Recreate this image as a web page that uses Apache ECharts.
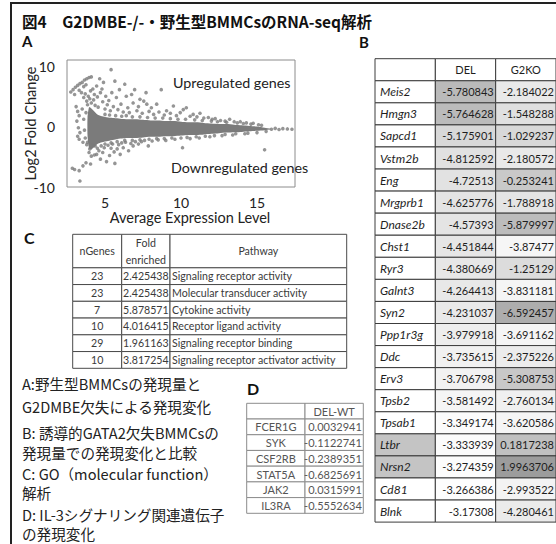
<!DOCTYPE html>
<html>
<head>
<meta charset="utf-8">
<script src="https://cdn.jsdelivr.net/npm/echarts@6.0.0/dist/echarts.min.js"></script>
<style>
  html, body { margin: 0; padding: 0; background: #ffffff; }
  #fig { width: 556px; height: 544px; }
</style>
</head>
<body>
<div id="fig"></div>
<script>
// ---------- Panel A: MA plot ----------
// dense core of the cloud: upper / lower envelope along the expression axis
const bandX     = [3.85, 3.95, 4.1, 4.3, 4.5, 4.8, 5.2, 5.6, 6.0, 6.5, 7.0, 7.5, 8.0, 8.5, 9.0, 9.5, 10.0, 10.5, 11.0, 11.5, 12.0, 12.5, 13.0, 13.5, 14.0, 14.5, 15.0, 15.5, 15.9];
const bandUpper = [1.5, 3.2, 3.0, 2.5, 2.0, 1.7, 1.5, 1.4, 1.3, 1.2, 1.2, 1.1, 1.0, 1.0, 0.9, 0.9, 0.8, 0.7, 0.7, 0.6, 0.5, 0.4, 0.4, 0.3, 0.2, 0.1, 0.0, -0.2, -0.35];
const bandLower = [-1.5, -3.6, -3.8, -3.4, -2.9, -2.6, -2.4, -2.2, -2.0, -1.9, -1.9, -1.8, -1.7, -1.7, -1.6, -1.6, -1.5, -1.4, -1.4, -1.3, -1.2, -1.1, -1.0, -0.95, -0.9, -0.8, -0.7, -0.6, -0.45];

// individual genes outside the dense core [average expression, log2 fold change]
const genesUp = [
  [2.75,5.7],[2.9,6.1],[3.05,6.5],[3.2,6.8],[3.35,7.1],[3.5,7.3],[3.65,7.7],[3.8,7.9],[3.95,8.1],[4.1,8.2],
  [3.0,5.3],[3.3,6.0],[3.6,6.6],[3.45,5.6],[3.75,6.9],
  [3.6,4.8],[3.7,5.4],[3.8,4.2],[3.85,3.6],[3.9,5.0],[4.0,4.6],[4.05,5.9],[4.1,3.9],[4.2,6.2],[4.25,4.4],
  [4.3,5.3],[4.35,3.5],[4.45,6.7],[4.5,4.9],[4.55,3.2],[4.65,7.9],[4.7,5.6],[4.8,6.2],[4.85,4.1],[4.9,7.3],
  [5.0,2.9],[5.05,5.0],[5.15,3.6],[5.25,4.3],[5.35,2.6],[5.4,9.4],[5.45,5.6],[5.55,3.3],[5.65,7.5],[5.75,4.8],
  [5.85,2.8],[5.95,6.1],[6.05,3.7],[6.2,2.4],[6.3,7.0],[6.4,5.0],[6.5,3.1],[6.6,2.3],[6.75,5.3],[6.85,3.9],
  [6.95,6.1],[7.1,2.6],[7.2,3.3],[7.3,4.5],[7.45,2.2],[7.55,4.2],[7.7,5.6],[7.75,3.7],[7.9,2.5],[8.05,3.1],
  [8.2,2.0],[8.4,3.7],[8.55,2.4],[8.7,6.1],[8.9,1.9],[9.05,2.6],[9.3,2.2],[9.5,3.4],[9.7,1.8],[9.95,2.3],
  [10.15,2.8],[10.35,3.1],[10.6,1.7],[10.8,2.0],[11.05,1.6],[11.25,2.2],[11.5,1.4],[11.8,1.5],[12.05,1.2],
  [12.25,1.3],[12.6,1.0],[12.9,0.9],[13.2,1.2],[13.5,0.8],[13.9,0.8],[14.3,0.6],[14.75,0.55],[15.1,0.3]
];
const genesLowExpr = [
  [3.1,3.3],[3.2,2.5],[3.3,1.8],[3.15,0.9],[3.25,-0.2],[3.35,-1.0],[3.2,-1.6],[3.3,-2.1],[3.5,2.9],
  [3.6,1.2],[3.65,-0.6],[3.7,-1.9],[3.55,-2.6],[3.75,2.3],[3.8,-3.0]
];
const genesDown = [
  [3.85,-2.6],[3.95,-4.3],[4.0,-3.7],[4.1,-4.9],[4.2,-3.1],[4.3,-4.7],[4.35,-3.2],[4.45,-4.6],[4.5,-3.6],
  [4.6,-4.0],[4.7,-5.4],[4.75,-3.2],[4.85,-4.3],[4.95,-3.5],[5.1,-5.8],[5.2,-3.1],[5.3,-4.8],[5.4,-3.6],
  [5.5,-2.9],[5.6,-4.2],[5.65,-6.1],[5.8,-3.7],[5.9,-3.0],[6.0,-4.6],[6.1,-2.7],[6.2,-3.5],[6.35,-2.6],
  [6.55,-4.0],[6.7,-2.8],[6.85,-3.2],[7.0,-2.5],[7.2,-2.9],[7.4,-2.5],[7.6,-2.3],[7.85,-3.2],[8.1,-2.4],
  [8.5,-2.2],[9.0,-2.3],[9.6,-2.1],[10.1,-3.5],[10.6,-2.0],[11.2,-1.9],[11.9,-1.7],[12.7,-1.5],[13.4,-1.4],
  [14.2,-1.2],[15.5,-3.85],
  [2.85,-6.9],[3.0,-7.1],[3.3,-7.3],[3.55,-6.5],[3.75,-6.0],[3.35,-9.0],[4.05,-6.2]
];
const genesEdge = [
  [5.0,2.0],[5.3,1.9],[5.7,1.8],[6.1,1.7],[6.4,1.8],[6.8,1.6],[7.3,1.6],[7.8,1.5],[8.3,1.4],[8.8,1.4],
  [9.3,1.3],[9.8,1.2],[10.3,1.2],[10.9,1.1],[11.4,1.0],[12.0,0.9],[12.4,0.8],[13.0,0.7],[13.7,0.6],[14.1,0.5],
  [14.6,0.4],[15.3,0.2],
  [5.0,-2.9],[5.4,-2.7],[5.8,-2.5],[6.3,-2.3],[6.8,-2.3],[7.3,-2.2],[7.9,-2.1],[8.4,-2.0],[8.9,-2.0],
  [9.4,-1.9],[10.0,-1.9],[10.4,-1.8],[11.0,-1.7],[11.6,-1.6],[12.2,-1.5],[12.9,-1.3],[13.6,-1.2],[14.4,-1.1],
  [15.0,-1.0],[15.6,-0.8],
  [15.95,-0.45],[16.2,-0.3],[16.45,-0.5],[16.7,-0.35],[17.0,-0.4],[17.3,-0.45]
];
const xTicks = [5, 10, 15];
const yTicks = [-10, 0, 10];

// ---------- Panel B: log2 fold change of the top down-regulated genes ----------
const bGenes = ['Meis2','Hmgn3','Sapcd1','Vstm2b','Eng','Mrgprb1','Dnase2b','Chst1','Ryr3','Galnt3',
                'Syn2','Ppp1r3g','Ddc','Erv3','Tpsb2','Tpsab1','Ltbr','Nrsn2','Cd81','Blnk'];
const bDel  = [-5.780843,-5.764628,-5.175901,-4.812592,-4.72513,-4.625776,-4.57393,-4.451844,-4.380669,-4.264413,
               -4.231037,-3.979918,-3.735615,-3.706798,-3.581492,-3.349174,-3.333939,-3.274359,-3.266386,-3.17308];
const bG2ko = [-2.184022,-1.548288,-1.029237,-2.180572,-0.253241,-1.788918,-5.879997,-3.87477,-1.25129,-3.831181,
               -6.592457,-3.691162,-2.375226,-5.308753,-2.760134,-3.620586,0.1817238,1.9963706,-2.993522,-4.280461];
const bHeaders = ['', 'DEL', 'G2KO'];

// ---------- Panel C: GO molecular function ----------
const cHeaders = ['nGenes', 'Fold\nenriched', 'Pathway'];
const cGenes = [23, 23, 7, 10, 29, 10];
const cFold = [2.425438, 2.425438, 5.878571, 4.016415, 1.961163, 3.817254];
const cPathway = ['Signaling receptor activity', 'Molecular transducer activity', 'Cytokine activity',
                  'Receptor ligand activity', 'Signaling receptor binding', 'Signaling receptor activator activity'];

// ---------- Panel D: IL-3 signalling genes ----------
const dHeaders = ['', 'DEL-WT'];
const dGenes = ['FCER1G', 'SYK', 'CSF2RB', 'STAT5A', 'JAK2', 'IL3RA'];
const dDelWt = [0.0032941, -0.1122741, -0.2389351, -0.6825691, 0.0315991, -0.5552634];

// ---------- captions ----------
const titleText = '図4　G2DMBE-/-・野生型BMMCsのRNA-seq解析';
const legendLines = [
  'A:野生型BMMCsの発現量と',
  'G2DMBE欠失による発現変化',
  'B: 誘導的GATA2欠失BMMCsの',
  '発現量での発現変化と比較',
  'C: GO（molecular function）',
  '解析',
  'D: IL-3シグナリング関連遺伝子',
  'の発現変化'
];

// ================= drawing =================
const JP = '"Noto Sans CJK JP", "Noto Sans", sans-serif';
const LAT = 'Lato, "Noto Sans", sans-serif';
const DOT = '#7b7b7b';

const chart = echarts.init(document.getElementById('fig'), null, { renderer: 'svg' });

// one cell of a table, in the table's own axis units
function cell(x0, x1, y0, y1, text, opt) {
  return Object.assign({ x0, x1, y0, y1, text, align: 'center', pad: 3, fill: '#ffffff' }, opt || {});
}

function tableSeries(cells, gridIndex, look) {
  return {
    type: 'custom',
    xAxisIndex: gridIndex, yAxisIndex: gridIndex,
    clip: false, silent: true,
    encode: { x: [0, 1], y: [2, 3] },
    data: cells.map(c => [c.x0, c.x1, c.y0, c.y1, c.value == null ? 0 : c.value]),
    renderItem: function (params, api) {
      const c = cells[params.dataIndex];
      const p0 = api.coord([api.value(0), api.value(2)]);
      const p1 = api.coord([api.value(1), api.value(3)]);
      const x = Math.min(p0[0], p1[0]), y = Math.min(p0[1], p1[1]);
      const w = Math.abs(p1[0] - p0[0]), h = Math.abs(p1[1] - p0[1]);
      const fill = c.mapped ? api.visual('color') : c.fill;
      const tx = c.align === 'left' ? x + c.pad : c.align === 'right' ? x + w - c.pad : x + w / 2;
      return {
        type: 'group',
        children: [
          { type: 'rect', shape: { x: x, y: y, width: w, height: h },
            style: { fill: fill, stroke: look.line, lineWidth: look.lineWidth || 1 } },
          { type: 'text', x: tx, y: y + h / 2,
            style: { text: c.text, fill: look.text, font: c.font || look.font,
                     align: c.align, verticalAlign: 'middle', lineHeight: look.lineHeight || 14 } }
        ]
      };
    }
  };
}

// --- table B cells ---
const bPlain = [], bDelCells = [], bG2Cells = [];
bHeaders.forEach((h, j) => bPlain.push(cell(j, j + 1, 0, 1, h)));
bGenes.forEach((g, i) => {
  bPlain.push(cell(0, 1, i + 1, i + 2, g, {
    align: 'left', pad: 5, font: 'italic 12px ' + LAT,
    fill: bG2ko[i] > 0 ? '#c4c4c4' : '#ffffff'
  }));
  bDelCells.push(cell(1, 2, i + 1, i + 2, String(bDel[i]), { align: 'right', pad: 2, mapped: true, value: bDel[i] }));
  bG2Cells.push(cell(2, 3, i + 1, i + 2, String(bG2ko[i]), { align: 'right', pad: 2, mapped: true, value: bG2ko[i] }));
});
const lookB = { line: '#3c3c3c', text: '#1e1e1e', font: '11px ' + LAT };

// --- table C cells ---
const cColW = [49, 48.3, 176.7];
const cEdge = [0];
cColW.forEach(w => cEdge.push(cEdge[cEdge.length - 1] + w));
const cCells = [];
cHeaders.forEach((h, j) => cCells.push(cell(cEdge[j], cEdge[j + 1], 0, 2, h)));
cGenes.forEach((n, i) => {
  cCells.push(cell(cEdge[0], cEdge[1], i + 2, i + 3, String(n)));
  cCells.push(cell(cEdge[1], cEdge[2], i + 2, i + 3, String(cFold[i])));
  cCells.push(cell(cEdge[2], cEdge[3], i + 2, i + 3, cPathway[i], { align: 'left', pad: 2 }));
});
const lookC = { line: '#4a4a4a', text: '#3a3a3a', font: '10.6px ' + LAT, lineHeight: 17 };

// --- table D cells ---
const dCells = [];
dHeaders.forEach((h, j) => dCells.push(cell(j, j + 1, 0, 1, h)));
dGenes.forEach((g, i) => {
  dCells.push(cell(0, 1, i + 1, i + 2, g));
  dCells.push(cell(1, 2, i + 1, i + 2, String(dDelWt[i]), { align: 'right', pad: 1.5 }));
});
const lookD = { line: '#8c8c8c', text: '#555555', font: '11px ' + LAT };

const hiddenAxis = (gi, min, max, inverse) => ({
  type: 'value', gridIndex: gi, min: min, max: max, inverse: !!inverse, show: false,
  splitLine: { show: false }
});

const legendY = [383, 406, 432, 452, 473, 492, 514, 533];

// grids: 0 MA plot, 1 table B, 2 table C, 3 table D
const option = {
  backgroundColor: '#ffffff',
  animation: false,
  grid: [
    { left: 67, top: 60, width: 228, height: 127, show: true, borderColor: '#8c8c8c', borderWidth: 1 },
    { left: 375, top: 58.7, width: 183.3, height: 463.4 },
    { left: 72.7, top: 234.3, width: 274, height: 134 },
    { left: 246.7, top: 403.3, width: 116.6, height: 110 }
  ],
  xAxis: [
    {
      type: 'value', gridIndex: 0, min: 2.5, max: 17.5,
      axisLine: { show: false }, axisTick: { show: false }, splitLine: { show: false },
      axisLabel: { customValues: xTicks, fontSize: 14, color: '#222', fontFamily: LAT, margin: 8 },
      name: 'Average Expression Level', nameLocation: 'middle', nameGap: 23,
      nameTextStyle: { fontSize: 14.5, color: '#222', fontFamily: LAT, padding: [0, 0, 0, 18] }
    },
    hiddenAxis(1, 0, 3),
    hiddenAxis(2, 0, cEdge[cEdge.length - 1]),
    hiddenAxis(3, 0, 2)
  ],
  yAxis: [
    {
      type: 'value', gridIndex: 0, min: -10, max: 11,
      axisLine: { show: false }, axisTick: { show: false }, splitLine: { show: false },
      axisLabel: { customValues: yTicks, fontSize: 14, color: '#222', fontFamily: LAT, margin: 12 },
      name: 'Log2 Fold Change', nameLocation: 'middle', nameGap: 29, nameRotate: 90,
      nameMoveOverlap: false,
      nameTextStyle: { fontSize: 14.5, color: '#222', fontFamily: LAT }
    },
    hiddenAxis(1, 0, bGenes.length + 1, true),
    hiddenAxis(2, 0, cGenes.length + 2, true),
    hiddenAxis(3, 0, dGenes.length + 1, true)
  ],
  visualMap: [
    { type: 'continuous', show: false, seriesIndex: 3, dimension: 4, min: -5.8, max: -3.17,
      inRange: { color: ['#b9b9b9', '#d6d6d6', '#e2e2e2', '#e9e9e9', '#f2f2f2', '#ffffff'] } },
    { type: 'continuous', show: false, seriesIndex: 4, dimension: 4, min: -7, max: 2,
      inRange: { color: ['#a4a4a4', '#b9b9b9', '#cfcfcf', '#f6f6f6', '#f3f3f3', '#e7e7e7',
                         '#d8d8d8', '#c4c4c4', '#b0b0b0', '#9c9c9c'] } }
  ],
  series: [
    // 0: dense core
    {
      type: 'custom', xAxisIndex: 0, yAxisIndex: 0, clip: true, silent: true,
      data: bandX.map((x, i) => [x, bandUpper[i], bandLower[i]]),
      renderItem: function (params, api) {
        if (params.dataIndex !== 0) return null;
        const pts = [];
        for (let i = 0; i < bandX.length; i++) pts.push(api.coord([bandX[i], bandUpper[i]]));
        for (let i = bandX.length - 1; i >= 0; i--) pts.push(api.coord([bandX[i], bandLower[i]]));
        return { type: 'polygon', shape: { points: pts, smooth: 0.2 }, style: { fill: DOT } };
      }
    },
    // 1: scattered genes
    {
      type: 'scatter', xAxisIndex: 0, yAxisIndex: 0, silent: true,
      symbolSize: 3.6, itemStyle: { color: DOT },
      data: genesUp.concat(genesLowExpr, genesDown, genesEdge)
    },
    // 2..4: table B
    tableSeries(bPlain, 1, lookB),
    tableSeries(bDelCells, 1, lookB),
    tableSeries(bG2Cells, 1, lookB),
    // 5: table C
    tableSeries(cCells, 2, lookC),
    // 6: table D
    tableSeries(dCells, 3, lookD)
  ],
  graphic: [
    // figure frame
    { type: 'line', shape: { x1: 11, y1: 3, x2: 11, y2: 544 }, style: { stroke: '#222', lineWidth: 2 } },
    { type: 'line', shape: { x1: 10, y1: 3, x2: 556, y2: 3 }, style: { stroke: '#222', lineWidth: 2 } },
    { type: 'text', x: 22, y: 21, style: { text: titleText, font: 'bold 15.5px ' + JP, fill: '#111', verticalAlign: 'middle' } },
    { type: 'text', x: 22, y: 41, style: { text: 'A', font: 'bold 15px ' + LAT, fill: '#111', verticalAlign: 'middle' } },
    { type: 'text', x: 359, y: 42, style: { text: 'B', font: 'bold 15px ' + LAT, fill: '#111', verticalAlign: 'middle' } },
    { type: 'text', x: 24, y: 237, style: { text: 'C', font: 'bold 16px ' + LAT, fill: '#111', verticalAlign: 'middle' } },
    { type: 'text', x: 247, y: 388, style: { text: 'D', font: 'bold 16px ' + LAT, fill: '#111', verticalAlign: 'middle' } },
    { type: 'text', x: 173, y: 82, style: { text: 'Upregulated genes', font: '14.3px ' + LAT, fill: '#222', verticalAlign: 'middle' } },
    { type: 'text', x: 171, y: 167, style: { text: 'Downregulated genes', font: '14.3px ' + LAT, fill: '#222', verticalAlign: 'middle' } }
  ].concat(legendLines.map((t, i) => ({
    type: 'text', x: 22, y: legendY[i],
    style: { text: t, font: '14.6px ' + JP, fill: '#222', verticalAlign: 'middle' }
  })))
};

chart.setOption(option);
</script>
</body>
</html>
